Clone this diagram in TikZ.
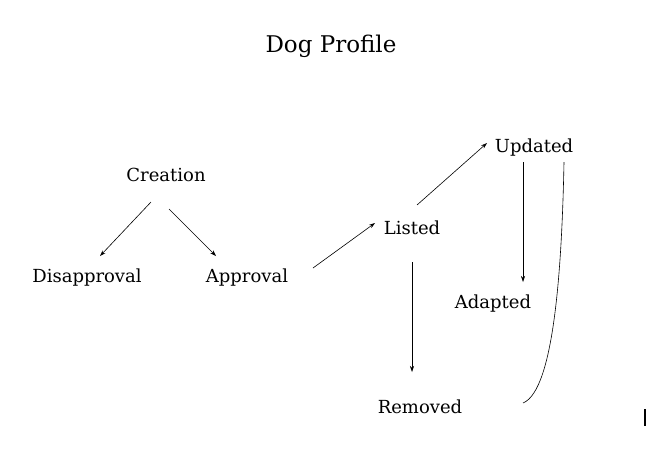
\documentclass[tikz,border=0pt]{standalone}
\usepackage{fontspec}
\setmainfont{DejaVu Serif}
\usetikzlibrary{arrows.meta,calc}
\begin{document}
\begin{tikzpicture}[x=1pt,y=-1pt,
  lbl/.style={inner sep=0pt,font=\fontsize{18}{20}\selectfont},
  ttl/.style={inner sep=0pt,font=\fontsize{23}{26}\selectfont},
  arr/.style={-{Stealth[length=6pt,width=4pt]},line width=0.6pt}]
\useasboundingbox[fill=white] (0,0) rectangle (660,456);
\node[ttl] (title) at (331,46) {Dog Profile};
\node[lbl] (creation) at (166,175) {Creation};
\node[lbl] (disapproval) at (87,278) {Disapproval};
\node[lbl] (approval) at (247,278) {Approval};
\node[lbl] (listed) at (412,228) {Listed};
\node[lbl] (updated) at (534,148) {Updated};
\node[lbl] (adapted) at (493,304) {Adapted};
\node[lbl] (removed) at (420,407) {Removed};
\draw[arr] ($(creation.center)+(-15,27)$) -- ($(disapproval.center)+(13,-22)$);
\draw[arr] ($(creation.center)+(3,34)$) -- ($(approval.center)+(-31,-22)$);
\draw[arr] ($(approval.center)+(66,-10)$) -- ($(listed.center)+(-37,-5)$);
\draw[arr] ($(listed.center)+(5,-23)$) -- ($(updated.center)+(-47,-5)$);
\draw[arr] ($(updated.center)+(-11,14)$) -- ($(adapted.center)+(30,-22)$);
\draw[arr] ($(listed.center)+(0,34)$) -- ($(removed.center)+(-8,-35)$);
\draw[line width=0.6pt] ($(updated.center)+(30,14)$) .. controls ($(updated.center)+(28,112)$) and ($(removed.center)+(135,-17)$) .. ($(removed.center)+(103,-4)$);
\fill (644,409) rectangle (646,426);
\end{tikzpicture}
\end{document}
